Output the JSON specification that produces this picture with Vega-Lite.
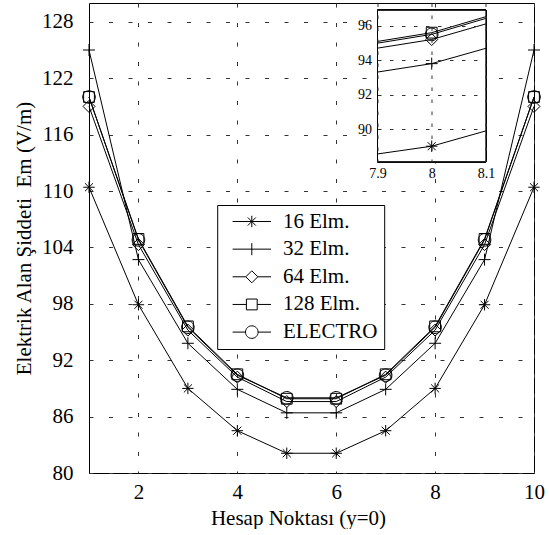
{
  "$schema": "https://vega.github.io/schema/vega-lite/v6.json",
  "background": "white",
  "padding": {"left": 13, "top": 2, "right": 0, "bottom": 0},
  "config": {
    "font": "Liberation Serif",
    "view": {"stroke": "black", "strokeWidth": 1},
    "axis": {
      "labelFont": "Liberation Serif",
      "titleFont": "Liberation Serif",
      "labelColor": "black",
      "titleColor": "black",
      "titleFontWeight": "normal",
      "domain": false,
      "ticks": false,
      "grid": true,
      "gridColor": "#333333",
      "gridWidth": 1,
      "gridOpacity": 1,
      "labelFlush": false,
      "labelOverlap": false
    },
    "legend": {"labelFont": "Liberation Serif"}
  },
  "datasets": {
    "em": [
      {"s": "16 Elm.", "x": 1, "v": 110.4}, {"s": "16 Elm.", "x": 2, "v": 97.9}, {"s": "16 Elm.", "x": 3, "v": 89.0}, {"s": "16 Elm.", "x": 4, "v": 84.5}, {"s": "16 Elm.", "x": 5, "v": 82.1},
      {"s": "16 Elm.", "x": 6, "v": 82.1}, {"s": "16 Elm.", "x": 7, "v": 84.5}, {"s": "16 Elm.", "x": 8, "v": 89.0}, {"s": "16 Elm.", "x": 9, "v": 97.9}, {"s": "16 Elm.", "x": 10, "v": 110.4},
      {"s": "32 Elm.", "x": 1, "v": 125.0}, {"s": "32 Elm.", "x": 2, "v": 102.7}, {"s": "32 Elm.", "x": 3, "v": 93.8}, {"s": "32 Elm.", "x": 4, "v": 88.9}, {"s": "32 Elm.", "x": 5, "v": 86.4},
      {"s": "32 Elm.", "x": 6, "v": 86.4}, {"s": "32 Elm.", "x": 7, "v": 88.9}, {"s": "32 Elm.", "x": 8, "v": 93.8}, {"s": "32 Elm.", "x": 9, "v": 102.7}, {"s": "32 Elm.", "x": 10, "v": 125.0},
      {"s": "64 Elm.", "x": 1, "v": 119.0}, {"s": "64 Elm.", "x": 2, "v": 104.3}, {"s": "64 Elm.", "x": 3, "v": 95.2}, {"s": "64 Elm.", "x": 4, "v": 90.2}, {"s": "64 Elm.", "x": 5, "v": 87.6},
      {"s": "64 Elm.", "x": 6, "v": 87.6}, {"s": "64 Elm.", "x": 7, "v": 90.2}, {"s": "64 Elm.", "x": 8, "v": 95.2}, {"s": "64 Elm.", "x": 9, "v": 104.3}, {"s": "64 Elm.", "x": 10, "v": 119.0},
      {"s": "128 Elm.", "x": 1, "v": 120.0}, {"s": "128 Elm.", "x": 2, "v": 104.9}, {"s": "128 Elm.", "x": 3, "v": 95.6}, {"s": "128 Elm.", "x": 4, "v": 90.5}, {"s": "128 Elm.", "x": 5, "v": 87.9},
      {"s": "128 Elm.", "x": 6, "v": 87.9}, {"s": "128 Elm.", "x": 7, "v": 90.5}, {"s": "128 Elm.", "x": 8, "v": 95.6}, {"s": "128 Elm.", "x": 9, "v": 104.9}, {"s": "128 Elm.", "x": 10, "v": 120.0},
      {"s": "ELECTRO", "x": 1, "v": 120.0}, {"s": "ELECTRO", "x": 2, "v": 104.8}, {"s": "ELECTRO", "x": 3, "v": 95.5}, {"s": "ELECTRO", "x": 4, "v": 90.4}, {"s": "ELECTRO", "x": 5, "v": 88.0},
      {"s": "ELECTRO", "x": 6, "v": 88.0}, {"s": "ELECTRO", "x": 7, "v": 90.4}, {"s": "ELECTRO", "x": 8, "v": 95.5}, {"s": "ELECTRO", "x": 9, "v": 104.8}, {"s": "ELECTRO", "x": 10, "v": 120.0}
    ]
  },
  "columns": 2,
  "align": "none",
  "bounds": "full",
  "spacing": -196.5,
  "resolve": {"scale": {"x": "independent", "y": "independent", "shape": "independent"}, "legend": {"shape": "independent"}},
  "concat": [
    {
      "width": 445,
      "height": 470,
      "data": {"name": "em"},
      "encoding": {
        "x": {"field": "x", "type": "quantitative", "scale": {"domain": [1, 10], "nice": false, "zero": false},
          "axis": {"values": [2, 4, 6, 8, 10], "title": "Hesap Noktası (y=0)", "labelFontSize": 21, "titleFontSize": 21, "labelPadding": 8, "titlePadding": 5, "titleX": 209, "gridDash": [4, 15.5]}},
        "y": {"field": "v", "type": "quantitative", "scale": {"domain": [80, 130], "nice": false, "zero": false},
          "axis": {"values": [80, 86, 92, 98, 104, 110, 116, 122, 128], "title": "Elektrik Alan Şiddeti\u00a0 Em (V/m)", "labelFontSize": 21, "titleFontSize": 21, "labelPadding": 16, "titlePadding": 7, "gridDash": [4, 15.5]}}
      },
      "resolve": {"scale": {"shape": "independent"}, "legend": {"shape": "independent"}},
      "layer": [
        {"mark": {"type": "line", "color": "black", "strokeWidth": 1}, "encoding": {"detail": {"field": "s"}}},
        {"mark": {"type": "point", "filled": false, "color": "black", "strokeWidth": 1, "size": 144, "opacity": 1},
          "encoding": {"shape": {"field": "s", "type": "nominal",
            "scale": {"domain": ["16 Elm.", "32 Elm.", "64 Elm.", "128 Elm.", "ELECTRO"],
              "range": ["M-0.95,0H0.95M0,-0.95V0.95M-0.67,-0.67L0.67,0.67M-0.67,0.67L0.67,-0.67", "M-1,0H1M0,-1V1", "M0,-1L1,0L0,1L-1,0Z", "M-0.9,-0.9H0.9V0.9H-0.9Z", "M-1.05,0A1.05,1.05,0,1,0,1.05,0A1.05,1.05,0,1,0,-1.05,0Z"]},
            "legend": null}}
        },
        {"mark": {"type": "point", "filled": false, "color": "black", "strokeWidth": 1, "size": 144, "opacity": 0},
          "encoding": {"shape": {"field": "s", "type": "nominal",
            "sort": ["16 Elm.", "32 Elm.", "64 Elm.", "128 Elm.", "ELECTRO"],
            "scale": {"domain": ["16 Elm.", "32 Elm.", "64 Elm.", "128 Elm.", "ELECTRO"],
              "range": ["M-3.2,0H3.2M0,-0.95V0.95M-0.67,-0.67L0.67,0.67M-0.67,0.67L0.67,-0.67", "M-3.2,0H3.2M0,-1V1", "M-3.2,0H-1M1,0H3.2M0,-1L1,0L0,1L-1,0Z", "M-3.2,0H-0.9M0.9,0H3.2M-0.9,-0.9H0.9V0.9H-0.9Z", "M-3.2,0H-1.05M1.05,0H3.2M-1.05,0A1.05,1.05,0,1,0,1.05,0A1.05,1.05,0,1,0,-1.05,0Z"]},
            "legend": {
              "orient": "none", "legendX": 128.2, "legendY": 202, "title": null,
              "padding": 6, "strokeColor": "black", "fillColor": "white",
              "labelFontSize": 21, "labelColor": "black",
              "labelExpr": "datum.label + '\u00a0\u00a0\u00a0\u00a0'",
              "symbolSize": 144, "symbolStrokeWidth": 1, "symbolStrokeColor": "black", "symbolFillColor": "transparent", "symbolOpacity": 1,
              "symbolOffset": 18.1, "labelOffset": 20.6, "rowPadding": 5.65
            }}}
        }
      ]
    },
    {
      "width": 108.4,
      "height": 158.7,
      "view": {"fill": null, "stroke": null},
      "data": {"name": "em"},
      "transform": [{"filter": "datum.x >= 7 && datum.x <= 9"}],
      "encoding": {
        "x": {"field": "x", "type": "quantitative", "scale": {"domain": [7.9, 8.1], "nice": false, "zero": false},
          "axis": {"values": [7.9, 8, 8.1], "format": "~g", "title": null, "labelFontSize": 14, "labelPadding": 5, "gridDash": [3.5, 8.5], "zindex": 1}},
        "y": {"field": "v", "type": "quantitative", "scale": {"domain": [88.1, 97.324], "nice": false, "zero": false},
          "axis": {"values": [90, 92, 94, 96], "title": null, "labelFontSize": 14, "labelPadding": 6, "gridDash": [3.5, 8.5], "zindex": 1}}
      },
      "layer": [
        {"mark": {"type": "rect", "fill": "white", "stroke": "black", "strokeWidth": 1},
          "encoding": {"x": {"datum": 7.9}, "x2": {"datum": 8.1}, "y": {"datum": 88.1}, "y2": {"datum": 96.9}}},
        {"mark": {"type": "line", "color": "black", "strokeWidth": 1, "clip": true}, "encoding": {"detail": {"field": "s"}}},
        {"mark": {"type": "point", "filled": false, "color": "black", "strokeWidth": 1, "size": 144, "opacity": 1, "clip": true},
          "encoding": {"shape": {"field": "s", "type": "nominal",
            "scale": {"domain": ["16 Elm.", "32 Elm.", "64 Elm.", "128 Elm.", "ELECTRO"],
              "range": ["M-0.95,0H0.95M0,-0.95V0.95M-0.67,-0.67L0.67,0.67M-0.67,0.67L0.67,-0.67", "M-1,0H1M0,-1V1", "M0,-1L1,0L0,1L-1,0Z", "M-0.9,-0.9H0.9V0.9H-0.9Z", "M-1.05,0A1.05,1.05,0,1,0,1.05,0A1.05,1.05,0,1,0,-1.05,0Z"]},
            "legend": null}}
        }
      ]
    }
  ]
}
